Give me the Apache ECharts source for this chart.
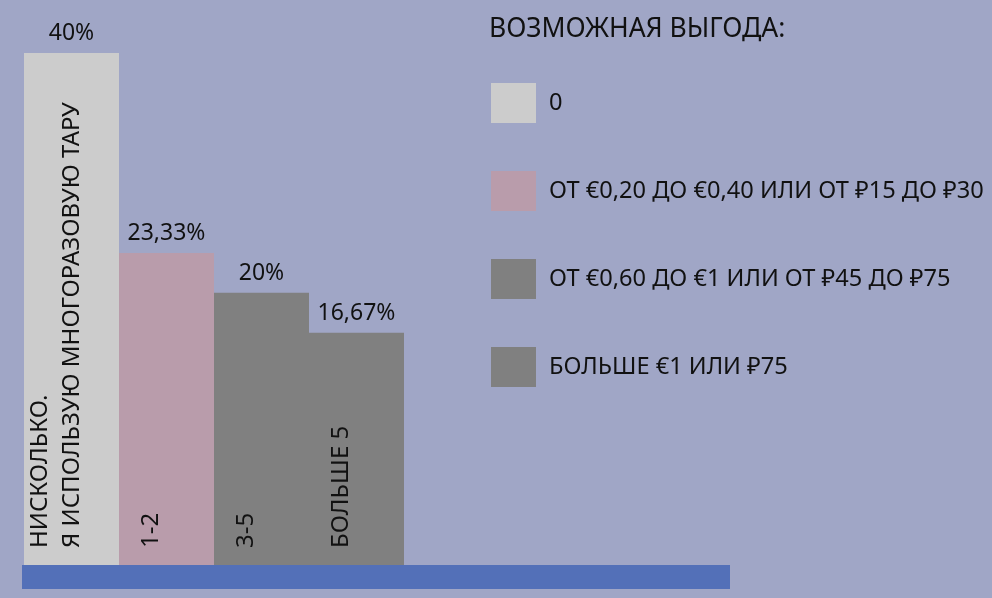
<!DOCTYPE html>
<html>
<head>
  <meta charset="UTF-8">
  <title>Возможная выгода</title>
  <script src="https://cdn.jsdelivr.net/npm/echarts@6/dist/echarts.min.js"></script>
</head>
<style type="text/css">
    html,body {padding: 0; margin: 0; background: #a0a6c6;}
    #chart {width: 992px; height: 598px;}
</style>
<body>
  <div id="chart"></div>
  <script type="text/javascript">

    // data
    var categories = ['НИСКОЛЬКО.\nЯ ИСПОЛЬЗУЮ МНОГОРАЗОВУЮ ТАРУ', '1-2', '3-5', 'БОЛЬШЕ 5'];
    var values = [40, 23.33, 20, 16.67];
    var legendNames = [
        '0',
        'ОТ €0,20 ДО €0,40 ИЛИ ОТ ₽15 ДО ₽30',
        'ОТ €0,60 ДО €1 ИЛИ ОТ ₽45 ДО ₽75',
        'БОЛЬШЕ €1 ИЛИ ₽75'
    ];
    var colors = ['#cccccc', '#b99cab', '#808080', '#808080'];
    var legendTitle = 'ВОЗМОЖНАЯ ВЫГОДА:';

    var font = '"Noto Sans", "DejaVu Sans", sans-serif';

    // one series per bar so every bar gets its own legend entry;
    // barGap -100% puts them on top of each other in each category
    var series = legendNames.map(function (name, i) {
        return {
            name: name,
            type: 'bar',
            barWidth: '100%',
            barGap: '-100%',
            itemStyle: {color: colors[i]},
            label: {
                show: true,
                position: 'top',
                distance: 8,
                color: '#111',
                fontFamily: font,
                fontSize: 23,
                formatter: function (p) {
                    return String(p.value).replace('.', ',') + '%';
                }
            },
            data: values.map(function (v, j) { return j === i ? v : '-'; })
        };
    });

    var myChart = echarts.init(document.getElementById('chart'));
    myChart.setOption({
        backgroundColor: '#a0a6c6',
        animation: false,
        color: colors,
        title: {
            text: legendTitle,
            left: 489,
            top: 16,
            padding: 0,
            textStyle: {fontFamily: font, fontSize: 26.5, fontWeight: 'normal', color: '#111'}
        },
        legend: {
            orient: 'vertical',
            left: 491,
            top: 83,
            padding: 0,
            icon: 'rect',
            itemWidth: 45,
            itemHeight: 40,
            itemGap: 48,
            selectedMode: false,
            data: legendNames,
            textStyle: {fontFamily: font, fontSize: 23.6, color: '#111', padding: [0, 0, 0, 8]}
        },
        grid: {left: 24, right: 588, top: 53, bottom: 33},
        xAxis: {
            type: 'category',
            data: categories,
            axisLine: {show: false},
            axisTick: {show: false},
            axisLabel: {
                inside: true,
                rotate: 90,
                margin: 17,
                align: 'left',
                verticalAlign: 'middle',
                interval: 0,
                // an empty line after the text nudges it left of the bar centre
                formatter: function (v) {
                    return v.split('\n').map(function (l) {
                        return '{n|' + l + '}';
                    }).join('\n') + '\n{e| }';
                },
                rich: {
                    n: {color: '#111', fontFamily: font, fontSize: 24, lineHeight: 32},
                    e: {fontSize: 10, lineHeight: 30}
                }
            },
            z: 10
        },
        yAxis: {
            type: 'value',
            show: false,
            min: -2.7,
            max: 40,
            startValue: -2.7,
            splitLine: {show: false}
        },
        graphic: [{
            type: 'rect',
            shape: {x: 22, y: 565, width: 708, height: 24},
            style: {fill: '#5370b8'}
        }],
        series: series
    });

  </script>
</body>
</html>
